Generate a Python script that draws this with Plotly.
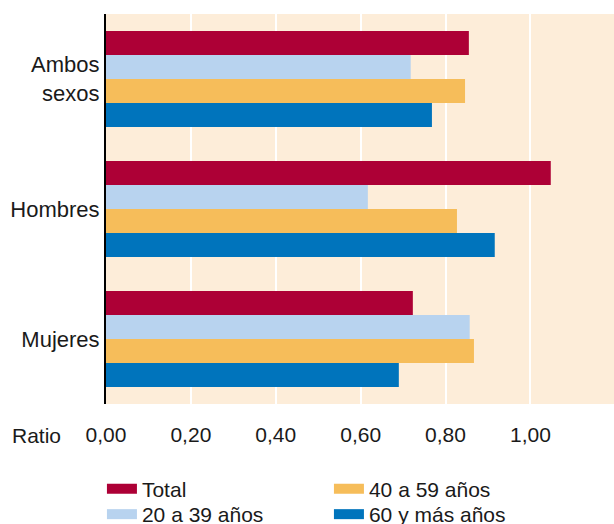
import plotly.graph_objects as go

categories = ["Ambos<br>sexos", "Hombres", "Mujeres"]
series_names = ["Total", "20 a 39 años", "40 a 59 años", "60 y más años"]
total = [0.855, 1.048, 0.723]
age_20_39 = [0.718, 0.617, 0.857]
age_40_59 = [0.846, 0.827, 0.867]
age_60_plus = [0.768, 0.916, 0.690]
x_ticks = [0, 0.2, 0.4, 0.6, 0.8, 1.0]
colors = ["#AD0036", "#B8D3EF", "#F6BD5A", "#0074BC"]
legend_rows = ["legend", "legend2", "legend", "legend2"]
legend_ranks = [1, 1, 2, 2]

values = [total, age_20_39, age_40_59, age_60_plus]
FONT = "Liberation Sans"

fig = go.Figure()
for name, vals, col, lg, rk in zip(series_names, values, colors, legend_rows, legend_ranks):
    fig.add_trace(go.Bar(
        y=categories, x=vals, orientation="h", name=name,
        marker=dict(color=col, line=dict(width=0)),
        showlegend=False, legendgroup=name,
    ))
    fig.add_trace(go.Scatter(
        x=[None], y=[None], mode="lines", name=name,
        line=dict(color=col, width=14), legendgroup=name,
        legend=lg, legendrank=rk, showlegend=True, hoverinfo="skip",
    ))

leg_common = dict(
    orientation="h", x=-0.008, xanchor="left", yanchor="middle",
    entrywidth=182, entrywidthmode="pixels",
    font=dict(size=21), bgcolor="rgba(0,0,0,0)",
    itemclick=False, itemdoubleclick=False,
)

fig.update_layout(
    width=614, height=524,
    margin=dict(l=106, r=0, t=14, b=120, autoexpand=False),
    paper_bgcolor="white", plot_bgcolor="#FDEDD9",
    barmode="group", bargap=0.26, bargroupgap=0,
    separators=",.",
    font=dict(family=FONT, size=21, color="#1a1a1a"),
    xaxis=dict(
        range=[0, 1.197], tickvals=x_ticks, tickformat=".2f",
        showgrid=True, gridcolor="white", gridwidth=2,
        zeroline=False, showline=False, automargin=False,
        ticks="outside", ticklen=12, tickcolor="rgba(0,0,0,0)",
        tickfont=dict(size=21),
    ),
    yaxis=dict(
        autorange="reversed", showgrid=False, zeroline=False,
        showline=True, linecolor="black", linewidth=2, automargin=False,
        ticks="", tickfont=dict(size=22),
    ),
    legend=dict(y=-(489 - 404) / 390, **leg_common),
    legend2=dict(y=-(514.5 - 404) / 390, **leg_common),
    annotations=[dict(
        text="Ratio", xref="paper", yref="paper", x=-0.136, y=-(435 - 404) / 390,
        xanchor="center", yanchor="middle", showarrow=False,
        font=dict(size=21),
    )],
)

fig.write_html(
    "out.html",
    config={"displayModeBar": False},
    post_script="document.body.style.margin='0';document.body.style.overflow='hidden';",
)
